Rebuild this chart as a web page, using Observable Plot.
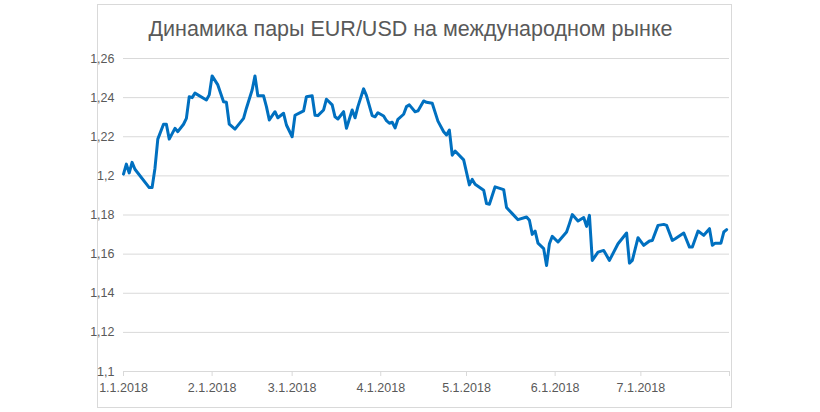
<!DOCTYPE html>
<html>
<head>
<meta charset="utf-8">
<script src="https://cdn.jsdelivr.net/npm/d3@7"></script>
<script src="https://cdn.jsdelivr.net/npm/@observablehq/plot@0.6"></script>
<style>
  html, body { margin: 0; padding: 0; background: #fff; }
  #chart svg { display: block; }
</style>
</head>
<body>
<div id="chart"></div>
<script>
const title = "Динамика пары EUR/USD на международном рынке";

const dates = [
  "2018-01-01","2018-01-02","2018-01-03","2018-01-04","2018-01-05","2018-01-10","2018-01-11","2018-01-12",
  "2018-01-13","2018-01-15","2018-01-16","2018-01-17","2018-01-19","2018-01-20","2018-01-22","2018-01-23",
  "2018-01-24","2018-01-25","2018-01-26","2018-01-30","2018-01-31","2018-02-01","2018-02-03","2018-02-05",
  "2018-02-06","2018-02-07","2018-02-09","2018-02-12","2018-02-13","2018-02-15","2018-02-16","2018-02-17",
  "2018-02-19","2018-02-20","2018-02-21","2018-02-23","2018-02-24","2018-02-26","2018-02-27","2018-03-01",
  "2018-03-02","2018-03-04","2018-03-05","2018-03-06","2018-03-08","2018-03-09","2018-03-10","2018-03-12",
  "2018-03-13","2018-03-15","2018-03-16","2018-03-17","2018-03-19","2018-03-20","2018-03-22","2018-03-23",
  "2018-03-24","2018-03-26","2018-03-27","2018-03-29","2018-03-30","2018-03-31","2018-04-02","2018-04-03",
  "2018-04-04","2018-04-05","2018-04-06","2018-04-07","2018-04-09","2018-04-10","2018-04-11","2018-04-13",
  "2018-04-14","2018-04-16","2018-04-17","2018-04-19","2018-04-21","2018-04-23","2018-04-24","2018-04-25",
  "2018-04-26","2018-04-27","2018-04-30","2018-05-02","2018-05-03","2018-05-04","2018-05-07","2018-05-08",
  "2018-05-09","2018-05-11","2018-05-14","2018-05-15","2018-05-17","2018-05-19","2018-05-22","2018-05-23",
  "2018-05-24","2018-05-25","2018-05-26","2018-05-28","2018-05-29","2018-05-30","2018-05-31","2018-06-02",
  "2018-06-05","2018-06-06","2018-06-07","2018-06-09","2018-06-11","2018-06-12","2018-06-13","2018-06-14",
  "2018-06-16","2018-06-18","2018-06-20","2018-06-23","2018-06-26","2018-06-27","2018-06-28","2018-06-30",
  "2018-07-02","2018-07-04","2018-07-05","2018-07-07","2018-07-09","2018-07-10","2018-07-12","2018-07-13",
  "2018-07-16","2018-07-18","2018-07-19","2018-07-21","2018-07-23","2018-07-25","2018-07-26","2018-07-27",
  "2018-07-29","2018-07-30","2018-07-31"
];

const rates = [
  1.2009,1.2060,1.2015,1.2069,1.2034,1.1940,1.1940,1.2038,
  1.2188,1.2264,1.2264,1.2188,1.2243,1.2226,1.2264,1.2294,
  1.2405,1.2400,1.2423,1.2388,1.2414,1.2511,1.2465,1.2379,
  1.2376,1.2264,1.2239,1.2294,1.2346,1.2439,1.2511,1.2409,
  1.2409,1.2354,1.2286,1.2328,1.2297,1.2320,1.2260,1.2200,
  1.2310,1.2325,1.2332,1.2405,1.2410,1.2310,1.2308,1.2337,
  1.2392,1.2363,1.2302,1.2291,1.2328,1.2243,1.2337,1.2297,
  1.2354,1.2445,1.2410,1.2308,1.2302,1.2323,1.2306,1.2282,
  1.2269,1.2274,1.2245,1.2289,1.2315,1.2354,1.2363,1.2328,
  1.2332,1.2383,1.2376,1.2371,1.2280,1.2226,1.2209,1.2234,
  1.2106,1.2127,1.2082,1.1954,1.1982,1.1957,1.1927,1.1858,
  1.1855,1.1944,1.1930,1.1838,1.1807,1.1776,1.1790,1.1773,
  1.1701,1.1718,1.1656,1.1628,1.1542,1.1653,1.1691,1.1662,
  1.1713,1.1756,1.1802,1.1769,1.1787,1.1742,1.1798,1.1568,
  1.1610,1.1619,1.1568,1.1653,1.1708,1.1554,1.1568,1.1684,
  1.1645,1.1667,1.1670,1.1747,1.1752,1.1747,1.1670,1.1679,
  1.1708,1.1636,1.1636,1.1718,1.1696,1.1730,1.1645,1.1656,
  1.1656,1.1713,1.1725
];

const yTicks = [1.1, 1.12, 1.14, 1.16, 1.18, 1.2, 1.22, 1.24, 1.26];
const xTickDates = ["2018-01-01","2018-02-01","2018-03-01","2018-04-01","2018-05-01","2018-06-01","2018-07-01","2018-08-01"];
const xTickLabels = ["1.1.2018","2.1.2018","3.1.2018","4.1.2018","5.1.2018","6.1.2018","7.1.2018",""];

const data = dates.map((d, i) => ({date: new Date(d), rate: rates[i]}));
const xTicks = xTickDates.map(d => new Date(d));
const labelOf = new Map(xTicks.map((d, i) => [+d, xTickLabels[i]]));

const chart = Plot.plot({
  width: 820,
  height: 412,
  marginLeft: 123,
  marginRight: 91,
  marginTop: 58,
  marginBottom: 41,
  style: {fontFamily: "'Liberation Sans', Arial, sans-serif", fontSize: "12.5px", color: "#595959", background: "#fff"},
  x: {type: "utc", domain: [xTicks[0], xTicks[xTicks.length - 1]]},
  y: {domain: [1.1, 1.26]},
  marks: [
    Plot.frame({stroke: "#d9d9d9", insetLeft: -26, insetRight: -2, insetTop: -54, insetBottom: -36}),
    Plot.ruleY(yTicks.slice(1), {stroke: "#d9d9d9", strokeWidth: 1}),
    Plot.ruleY([1.1], {stroke: "#d9d9d9", strokeWidth: 1}),
    Plot.axisY({ticks: yTicks, tickSize: 0, tickPadding: 9, tickFormat: d => String(+d.toFixed(2)).replace(".", ","), label: null, fill: "#595959"}),
    Plot.axisX({ticks: xTicks, tickSize: 5, tickPadding: 7, stroke: "#d9d9d9", tickFormat: d => labelOf.get(+d), label: null, fill: "#595959"}),
    Plot.line(data, {x: "date", y: "rate", stroke: "#0070C0", strokeWidth: 3, strokeLinejoin: "round", strokeLinecap: "round"}),
    Plot.text([title], {frameAnchor: "top", lineAnchor: "middle", dy: -29, dx: -16, fontSize: 21.5, fill: "#595959", text: d => d})
  ]
});
document.getElementById("chart").appendChild(chart);
</script>
</body>
</html>
